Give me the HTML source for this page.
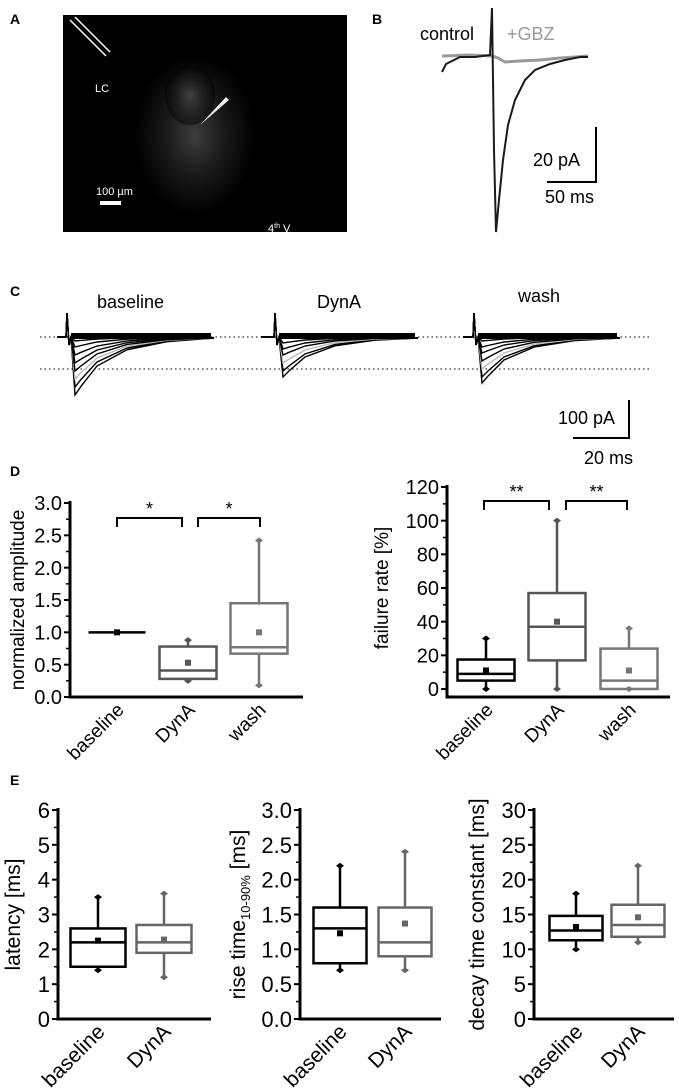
<!DOCTYPE html>
<html><head><meta charset="utf-8"><style>
body{margin:0;background:#fff;}
svg{display:block;font-family:"Liberation Sans",Arial,sans-serif;}
</style></head><body>
<svg id="fig" width="679" height="1092" viewBox="0 0 679 1092">
<defs><radialGradient id="glow" cx="50%" cy="50%" r="50%"><stop offset="0" stop-color="#666"/><stop offset="0.5" stop-color="#2a2a2a"/><stop offset="1" stop-color="#000"/></radialGradient></defs>
<!-- Panel A -->
<text x="10" y="24" font-size="14" font-weight="bold">A</text>
<g>
<rect x="63" y="15" width="284" height="217" fill="#000"/>
<ellipse cx="195" cy="135" rx="60" ry="80" fill="url(#glow)" opacity="0.6"/>
<ellipse cx="190" cy="95" rx="25" ry="30" fill="url(#glow)" opacity="0.5"/>
<line x1="70" y1="20" x2="106" y2="56" stroke="#fff" stroke-width="1.5"/>
<line x1="75" y1="17" x2="110" y2="52" stroke="#fff" stroke-width="1.5"/>
<path d="M200 125 L226 97 L229 100 Z" fill="#eee"/>
<text x="95" y="92" font-size="11" fill="#fff">LC</text>
<text x="96" y="195" font-size="11" fill="#fff">100 µm</text>
<rect x="100" y="201" width="21" height="4" fill="#fff"/>
<text x="268" y="232" font-size="11" fill="#fff">4<tspan font-size="7" dy="-4">th</tspan><tspan dy="4"> V</tspan></text>
</g>
<!-- Panel B -->
<text x="372" y="24" font-size="14" font-weight="bold">B</text>
<text x="420" y="40" font-size="18">control</text>
<text x="507" y="40" font-size="18" fill="#999">+GBZ</text>
<path d="M442 56 L470 55 L492 56 L498 58 L505 62 L520 61 L540 60 L560 58 L575 57 L588 56" stroke="#999" stroke-width="3" fill="none"/>
<path d="M442 72 L446 64 L460 57 L475 57 L490 55 L492 8 L494 150 L496 232 L499 200 L503 160 L508 125 L515 100 L525 80 L535 70 L550 64 L565 60 L580 57 L588 57" stroke="#1a1a1a" stroke-width="2" fill="none"/>
<path d="M596 127 V182 H547" stroke="#000" stroke-width="2" fill="none"/>
<text x="533" y="166" font-size="18">20 pA</text>
<text x="545" y="203" font-size="18">50 ms</text>
<!-- Panel C -->
<text x="10" y="296" font-size="14" font-weight="bold">C</text>
<text x="97" y="308" font-size="18">baseline</text>
<text x="317" y="308" font-size="18">DynA</text>
<text x="518" y="302" font-size="18">wash</text>
<line x1="40" y1="337" x2="652" y2="337" stroke="#000" stroke-dasharray="1.5,3"/>
<line x1="40" y1="369" x2="652" y2="369" stroke="#000" stroke-dasharray="1.5,3"/>
<g id="ctraces" fill="none" stroke-width="1.4"></g>
<path d="M629 400 V438 H573" stroke="#000" stroke-width="2" fill="none"/>
<text x="558" y="424" font-size="18">100 pA</text>
<text x="584" y="464" font-size="18">20 ms</text>
<!-- Panel D / E -->
<text x="10" y="476" font-size="14" font-weight="bold">D</text>
<text x="10" y="785" font-size="14" font-weight="bold">E</text>
<g id="charts"></g>
</svg>
<script>
// Panel C traces (illustrative shapes)
const cg=document.getElementById('ctraces');
const cStarts=[57,261,463];
const cSpike=[10,14,11];
const cDepths=[[58,50,42,34,26,18,10,4],[40,34,26,18,12,6],[46,40,32,24,16,10,4]];
cStarts.forEach((x0,i)=>{
  const sx=x0+cSpike[i], y0=337;
  cDepths[i].forEach((d,j)=>{
    const p=document.createElementNS('http://www.w3.org/2000/svg','path');
    p.setAttribute('d',`M${x0} ${y0} L${sx-1} ${y0} L${sx} ${y0-24} L${sx+2} ${y0+8} L${sx+4} ${y0} L${sx+8} ${y0+d} L${sx+14} ${y0+d*0.85} L${sx+30} ${y0+d*0.5} L${sx+60} ${y0+d*0.22} L${sx+100} ${y0+d*0.08} L${x0+157} ${y0+1}`);
    p.setAttribute('stroke',j==2?'#bbb':'#000');
    
    
    cg.appendChild(p);
  });
  const n=document.createElementNS('http://www.w3.org/2000/svg','rect');
  n.setAttribute('x',sx+4);n.setAttribute('y',y0-4);n.setAttribute('width',150-cSpike[i]);n.setAttribute('height',6);n.setAttribute('fill','#000');n.setAttribute('stroke','none');
  
  
  cg.appendChild(n);
});

// Data
const catsD=['baseline','DynA','wash'];
const ampMin=[1,0.25,0.18], ampQ1=[1,0.28,0.67], ampMed=[1,0.41,0.77], ampQ3=[1,0.78,1.45], ampMax=[1,0.88,2.42], ampMean=[1,0.53,1.0];
const failMin=[0,0,0], failQ1=[5,17,0], failMed=[9,37,5], failQ3=[17.5,57,24], failMax=[30,100,36], failMean=[11,40,11];
const catsE=['baseline','DynA'];
const latMin=[1.4,1.2], latQ1=[1.5,1.9], latMed=[2.2,2.2], latQ3=[2.6,2.7], latMax=[3.5,3.6], latMean=[2.25,2.28];
const riseMin=[0.7,0.7], riseQ1=[0.8,0.9], riseMed=[1.3,1.1], riseQ3=[1.6,1.6], riseMax=[2.2,2.4], riseMean=[1.23,1.37];
const decMin=[10,11], decQ1=[11.3,11.8], decMed=[12.7,13.5], decQ3=[14.8,16.4], decMax=[18,22], decMean=[13.2,14.6];
const ampTicks=['0.0','0.5','1.0','1.5','2.0','2.5','3.0'];
const failTicks=['0','20','40','60','80','100','120'];
const latTicks=['0','1','2','3','4','5','6'];
const riseTicks=['0.0','0.5','1.0','1.5','2.0','2.5','3.0'];
const decTicks=['0','5','10','15','20','25','30'];

const NS='http://www.w3.org/2000/svg';
const root=document.getElementById('charts');
function mk(tag,attrs,parent){const e=document.createElementNS(NS,tag);for(const k in attrs)e.setAttribute(k,attrs[k]);(parent||root).appendChild(e);return e;}

function chart(o){
  const g=mk('g',{});
  
  
  const ymax=parseFloat(o.ticks[o.ticks.length-1]);
  const y=v=>o.y0-(v/ymax)*(o.y0-o.y1);
  const axY=o.axY||o.y0;
  const ax=mk('path',{d:`M${o.ax} ${o.y1-2} V${axY} H${o.axEnd}`,stroke:'#000','stroke-width':3,fill:'none'},g);
  
  
  o.ticks.forEach((t,i)=>{
    const v=parseFloat(t), yy=y(v);
    mk('line',{x1:o.ax-6,x2:o.ax,y1:yy,y2:yy,stroke:'#000','stroke-width':2},g);
    if(i<o.ticks.length-1){const ym=y(v+ymax/(o.ticks.length-1)/2);mk('line',{x1:o.ax-4,x2:o.ax,y1:ym,y2:ym,stroke:'#000','stroke-width':1.5},g);}
    const tx=mk('text',{x:o.ax-8,y:yy+o.fs*0.36,'font-size':o.fs,'text-anchor':'end'},g);
    tx.textContent=t;
    
    
  });
  const yl=mk('text',{x:0,y:0,'font-size':o.fs-1,'text-anchor':'middle',transform:`translate(${o.ylx},${(o.y0+o.y1)/2}) rotate(-90)`},g);
  yl.innerHTML=o.ylabel;
  
  
  o.cats.forEach((c,i)=>{
    const cx=o.xs[i], col=o.colors[i], hw=o.bw/2;
    const xl=mk('text',{x:0,y:0,'font-size':o.fs-1,'text-anchor':'end',transform:`translate(${cx+8},${axY+14}) rotate(-45)`},g);
    xl.textContent=c;
    
    
    const bg=mk('g',{stroke:col,fill:'none','stroke-width':2.5},g);
    
    
    if(o.q1[i]===o.q3[i]){
      mk('line',{x1:cx-hw,x2:cx+hw,y1:y(o.med[i]),y2:y(o.med[i])},bg);
    } else {
      mk('line',{x1:cx,x2:cx,y1:y(o.max[i]),y2:y(o.q3[i])},bg);
      mk('line',{x1:cx,x2:cx,y1:y(o.q1[i]),y2:y(o.min[i])},bg);
      mk('rect',{x:cx-hw,y:y(o.q3[i]),width:o.bw,height:y(o.q1[i])-y(o.q3[i])},bg);
      mk('line',{x1:cx-hw,x2:cx+hw,y1:y(o.med[i]),y2:y(o.med[i])},bg);
      [o.min[i],o.max[i]].forEach(v=>{mk('path',{d:`M${cx-4} ${y(v)} L${cx} ${y(v)-3} L${cx+4} ${y(v)} L${cx} ${y(v)+3}Z`,fill:col,stroke:'none'},bg);});
    }
    mk('rect',{x:cx-3,y:y(o.mean[i])-3,width:6,height:6,fill:col,stroke:'none'},bg);
  });
  (o.sig||[]).forEach(s=>{
    const sg=mk('g',{},g);
    
    
    mk('path',{d:`M${s[0]} ${s[2]+9} V${s[2]} H${s[1]} V${s[2]+9}`,stroke:'#000','stroke-width':2,fill:'none'},sg);
    const st=mk('text',{x:(s[0]+s[1])/2,y:s[2]-3,'font-size':18,'text-anchor':'middle'},sg);
    st.textContent=s[3];
  });
}
const C=['#000','#555','#777'];
chart({name:'amplitude-chart',fs:20,cats:catsD,xs:[117,188,259],bw:57,ax:70,axEnd:303,y0:697,y1:503,ticks:ampTicks,ylx:24,ylabel:'normalized amplitude',colors:C,min:ampMin,q1:ampQ1,med:ampMed,q3:ampQ3,max:ampMax,mean:ampMean,sig:[[117,182,518,'*'],[198,260,518,'*']]});
chart({name:'failure-rate-chart',fs:20,cats:catsD,xs:[486,557,629],bw:57,ax:447,axEnd:670,y0:689,y1:487,axY:697,ticks:failTicks,ylx:388,ylabel:'failure rate [%]',colors:C,min:failMin,q1:failQ1,med:failMed,q3:failQ3,max:failMax,mean:failMean,sig:[[484,549,501,'**'],[566,627,501,'**']]});
chart({name:'latency-chart',fs:22,cats:catsE,xs:[98,164],bw:55,ax:58,axEnd:211,y0:1019,y1:810,ticks:latTicks,ylx:20,ylabel:'latency [ms]',colors:['#000','#666'],min:latMin,q1:latQ1,med:latMed,q3:latQ3,max:latMax,mean:latMean});
chart({name:'rise-time-chart',fs:22,cats:catsE,xs:[340,405],bw:53,ax:300,axEnd:441,y0:1019,y1:810,ticks:riseTicks,ylx:245,ylabel:'rise time<tspan font-size="13" dy="5">10-90%</tspan><tspan dy="-5"> [ms]</tspan>',colors:['#000','#666'],min:riseMin,q1:riseQ1,med:riseMed,q3:riseQ3,max:riseMax,mean:riseMean});
chart({name:'decay-chart',fs:22,cats:catsE,xs:[576,638],bw:53,ax:534,axEnd:674,y0:1019,y1:810,ticks:decTicks,ylx:484,ylabel:'decay time constant [ms]',colors:['#000','#666'],min:decMin,q1:decQ1,med:decMed,q3:decQ3,max:decMax,mean:decMean});
</script>
</body></html>
